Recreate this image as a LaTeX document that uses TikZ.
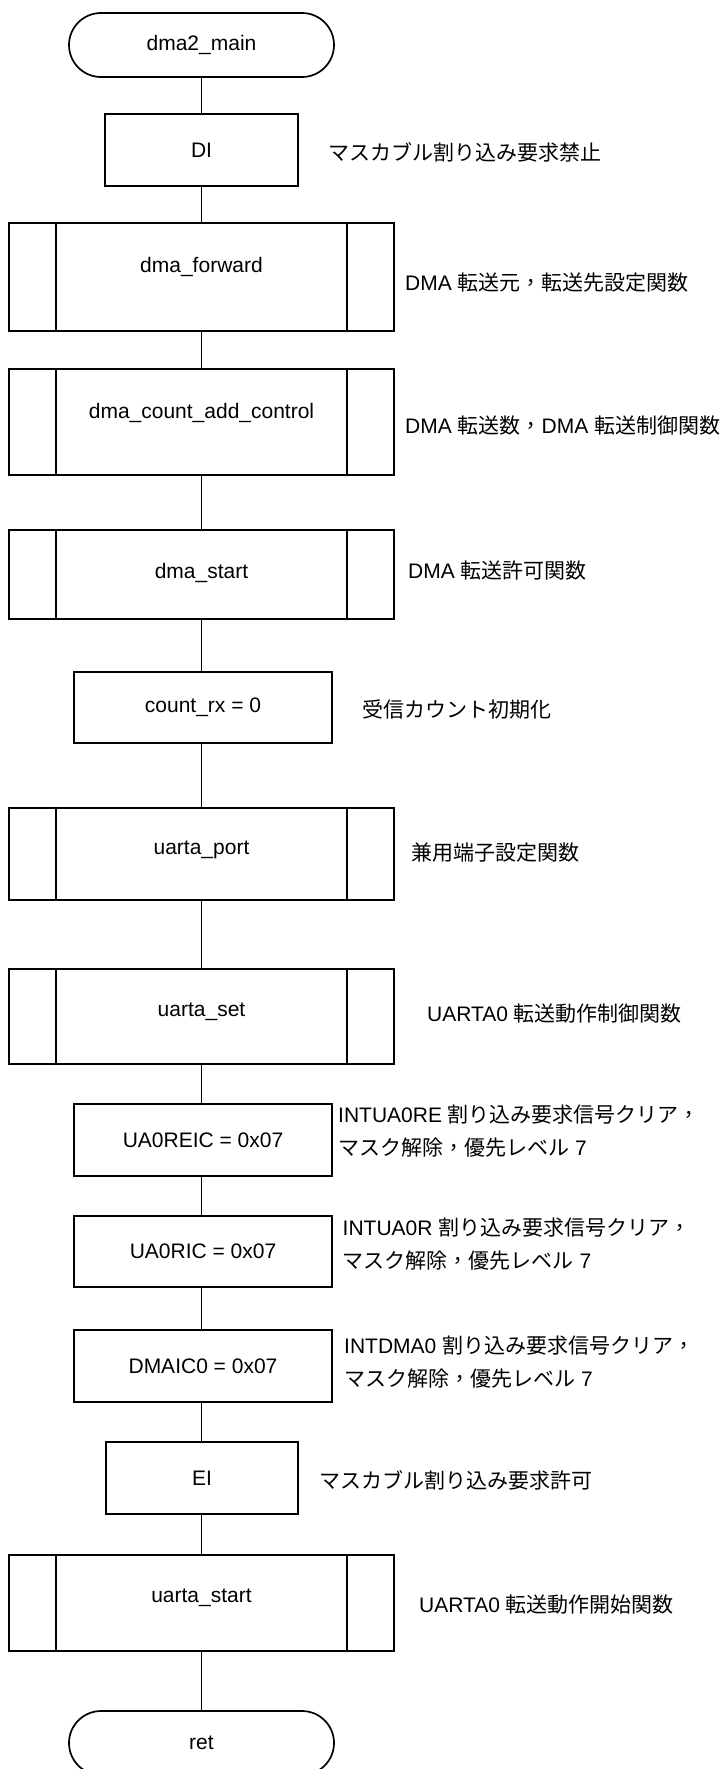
\documentclass[tikz,border=0pt]{standalone}
\usepackage{fontspec}
\setmainfont{Liberation Sans}
\newfontfamily\jp{Noto Sans CJK JP}
\newfontfamily\tcfont{Noto Sans CJK TC}
\newcommand{\zc}{{\tcfont ，}}
\begin{document}
\begin{tikzpicture}[x=1pt,y=-1pt,
  every node/.style={font=\fontsize{21}{32.5}\selectfont},
  line/.style={line width=1.7pt},
  proc/.style={draw, line width=1.7pt, rectangle, inner sep=0pt},
  subr/.style={proc, minimum width=385pt,
    path picture={\draw[line width=1.7pt]
      ([xshift=47pt]path picture bounding box.north west) -- ([xshift=47pt]path picture bounding box.south west)
      ([xshift=-47pt]path picture bounding box.north east) -- ([xshift=-47pt]path picture bounding box.south east);}},
  term/.style={proc, rounded corners=32pt, minimum width=265pt, minimum height=64pt},
  note/.style={anchor=west, inner sep=0pt, align=left}]
\useasboundingbox (0,0) rectangle (726,1769);
\fill[white] (0,0) rectangle (726,1769);

% flow nodes
\node[term] (start) at (201.5,45) {dma2\_main};
\node[proc, minimum width=193pt, minimum height=72pt] (di) at (201.5,150) {DI};
\node[subr, minimum height=108pt, label={[yshift=10pt]center:dma\_forward}] (fwd) at (201.5,277) {};
\node[subr, minimum height=106pt, label={[yshift=9pt]center:dma\_count\_add\_control}] (cnt) at (201.5,422) {};
\node[subr, minimum height=89pt, label={[yshift=1.5pt]center:dma\_start}] (dst) at (201.5,574.5) {};
\node[proc, minimum width=258pt, minimum height=71pt] (crx) at (203,707.5) {count\_rx = 0};
\node[subr, minimum height=92pt, label={[yshift=4pt]center:uarta\_port}] (port) at (201.5,854) {};
\node[subr, minimum height=95pt, label={[yshift=5pt]center:uarta\_set}] (uset) at (201.5,1016.5) {};
\node[proc, minimum width=258pt, minimum height=72pt] (reic) at (203,1140) {UA0REIC = 0x07};
\node[proc, minimum width=258pt, minimum height=71pt] (ric) at (203,1251.5) {UA0RIC = 0x07};
\node[proc, minimum width=258pt, minimum height=72pt] (dmaic) at (203,1366) {DMAIC0 = 0x07};
\node[proc, minimum width=192pt, minimum height=72pt] (ei) at (202,1478) {EI};
\node[subr, minimum height=96pt, label={[yshift=5pt]center:uarta\_start}] (ust) at (201.5,1603) {};
\node[term] (ret) at (201.5,1743) {ret};

% connectors
\draw[line] (start.south) -- (di.north);
\draw[line] (di.south) -- (fwd.north);
\draw[line] (fwd.south) -- (cnt.north);
\draw[line] (cnt.south) -- (dst.north);
\draw[line] (dst.south) -- (dst.south |- crx.north);
\draw[line] (dst.south |- crx.south) -- (port.north);
\draw[line] (port.south) -- (uset.north);
\draw[line] (uset.south) -- (uset.south |- reic.north);
\draw[line] (uset.south |- reic.south) -- (uset.south |- ric.north);
\draw[line] (uset.south |- ric.south) -- (uset.south |- dmaic.north);
\draw[line] (uset.south |- dmaic.south) -- (uset.south |- ei.north);
\draw[line] (uset.south |- ei.south) -- (ust.north);
\draw[line] (ust.south) -- (ret.north);

% notes
\node[note] (t1) at (328,152) {{\jp マスカブル割り込み要求禁止}};
\node[note] (t2) at (405,283) {DMA {\jp 転送元}\zc{\jp 転送先設定関数}};
\node[note] (t3) at (405,426) {DMA {\jp 転送数}\zc DMA {\jp 転送制御関数}};
\node[note] (t4) at (408,571) {DMA {\jp 転送許可関数}};
\node[note] (t5) at (362.5,710) {{\jp 受信カウント初期化}};
\node[note] (t6) at (411,853) {{\jp 兼用端子設定関数}};
\node[note] (t7) at (427,1014) {UARTA0 {\jp 転送動作制御関数}};
\node[note] (t8) at (338,1131) {INTUA0RE {\jp 割り込み要求信号クリア}\zc\\{\jp マスク解除}\zc{\jp 優先レベル} 7};
\node[note] (t9) at (342.5,1244) {INTUA0R {\jp 割り込み要求信号クリア}\zc\\{\jp マスク解除}\zc{\jp 優先レベル} 7};
\node[note] (t10) at (344,1362) {INTDMA0 {\jp 割り込み要求信号クリア}\zc\\{\jp マスク解除}\zc{\jp 優先レベル} 7};
\node[note] (t11) at (319,1480.5) {{\jp マスカブル割り込み要求許可}};
\node[note] (t12) at (419,1605) {UARTA0 {\jp 転送動作開始関数}};
\end{tikzpicture}
\end{document}
